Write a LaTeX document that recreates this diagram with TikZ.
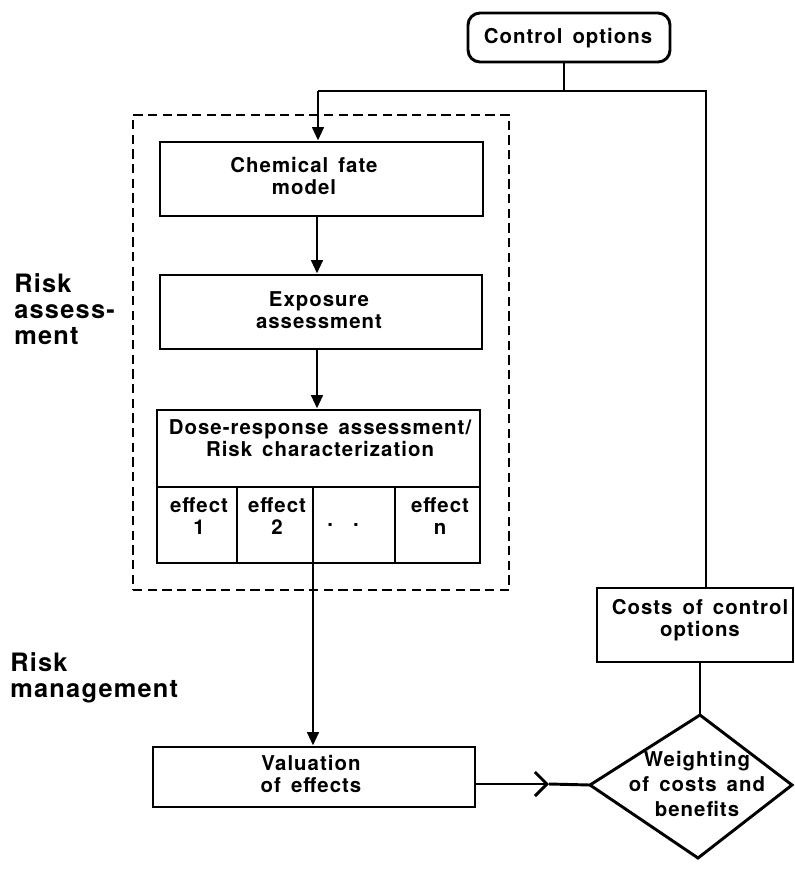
\documentclass[tikz,border=0pt]{standalone}
\usepackage{fontspec}
\setmainfont{TeX Gyre Heros}[LetterSpace=5,WordSpace=1.5]
\usetikzlibrary{arrows.meta}
\begin{document}
\begin{tikzpicture}[x=0.75pt,y=-0.75pt,
  box/.style={draw,line width=2.2pt,inner sep=0pt},
  txt/.style={font=\fontsize{15.3pt}{16pt}\bfseries\selectfont,align=center,inner sep=0pt},
  big/.style={font=\fontsize{19pt}{19.5pt}\bfseries\selectfont,align=left,inner sep=0pt,anchor=north west},
  conn/.style={line width=2.2pt},
  arr/.style={line width=2.2pt,-{Triangle[length=10pt,width=8.5pt]}}]
\useasboundingbox (0,0) rectangle (795,871);
% boxes
\node[box,rounded corners=9pt,minimum width=202*0.75pt,minimum height=49*0.75pt] (ctrl) at (569,37.5) {};
\node[txt] (ctrlt) at (568,38) {Control options};
\node[draw,dash pattern=on 7pt off 4pt,line width=1.5pt,minimum width=376*0.75pt,minimum height=475*0.75pt,inner sep=0pt] (dash) at (321,352.5) {};
\node[box,minimum width=323*0.75pt,minimum height=74*0.75pt] (chem) at (321.5,179) {};
\node[txt] (chemt) at (304,176) {Chemical fate\\model};
\node[box,minimum width=322*0.75pt,minimum height=74*0.75pt] (expo) at (321,312) {};
\node[txt] (expot) at (319,310) {Exposure\\assessment};
\node[box,minimum width=323*0.75pt,minimum height=153*0.75pt] (dose) at (318.5,486.5) {};
\node[txt] (doset) at (320,438) {Dose-response assessment/\\Risk characterization};
\coordinate (dl) at (157,487);
\coordinate (dr) at (480,487);
\draw[conn] (dl) -- (dr);
\draw[conn] (237,487) -- (237,563);
\draw[conn] (395,487) -- (395,563);
\node[txt] (e1) at (199,516) {effect\\1};
\node[txt] (e2) at (277,516) {effect\\2};
\node[txt] (e3) at (343,525) {.\ \ .};
\node[txt] (e4) at (440,516) {effect\\n};
\node[box,minimum width=322*0.75pt,minimum height=60*0.75pt] (val) at (314,777) {};
\node[txt] (valt) at (311,774) {Valuation\\of effects};
\node[box,minimum width=196*0.75pt,minimum height=74*0.75pt] (costs) at (695,625) {};
\node[txt] (costst) at (700,620) {Costs of control\\options};
% diamond
\coordinate (diaT) at (700,715);
\coordinate (diaL) at (590,785);
\coordinate (diaR) at (792,785);
\coordinate (diaB) at (698,858);
\draw[line width=2.2pt,line join=miter] (diaT) -- (diaR) -- (diaB) -- (diaL) -- cycle;
\node[txt,font=\fontsize{15.3pt}{18.8pt}\bfseries\selectfont] (diat) at (697,784) {Weighting\\of costs and\\benefits};
% side labels
\node[big] (ra) at (14,273) {Risk\\assess-\\ment};
\node[big] (rm) at (10,652) {Risk\\management};
% connectors
\coordinate (stem) at (564,91);
\coordinate (topL) at (318,91);
\coordinate (topR) at (706,91);
\coordinate (ax) at (317,0);
\coordinate (e2top) at (313,487);
\coordinate (chev) at (549,784);
\draw[conn] (ctrl.south -| stem) -- (stem);
\draw[conn,line join=miter] (topR |- costs.north) -- (topR) -- (topL);
\draw[arr] (topL) -- (topL |- chem.north);
\draw[arr] (chem.south -| ax) -- (expo.north -| ax);
\draw[arr] (expo.south -| ax) -- (dose.north -| ax);
\draw[arr] (e2top) -- (e2top |- val.north);
\draw[conn,-{Straight Barb[length=9pt,width=18pt,line width=2.2pt]}] (val.east |- chev) -- (chev);
\draw[conn] (chev) -- (diaL);
\draw[conn] (costs.south -| diaT) -- (diaT);
\end{tikzpicture}
\end{document}
